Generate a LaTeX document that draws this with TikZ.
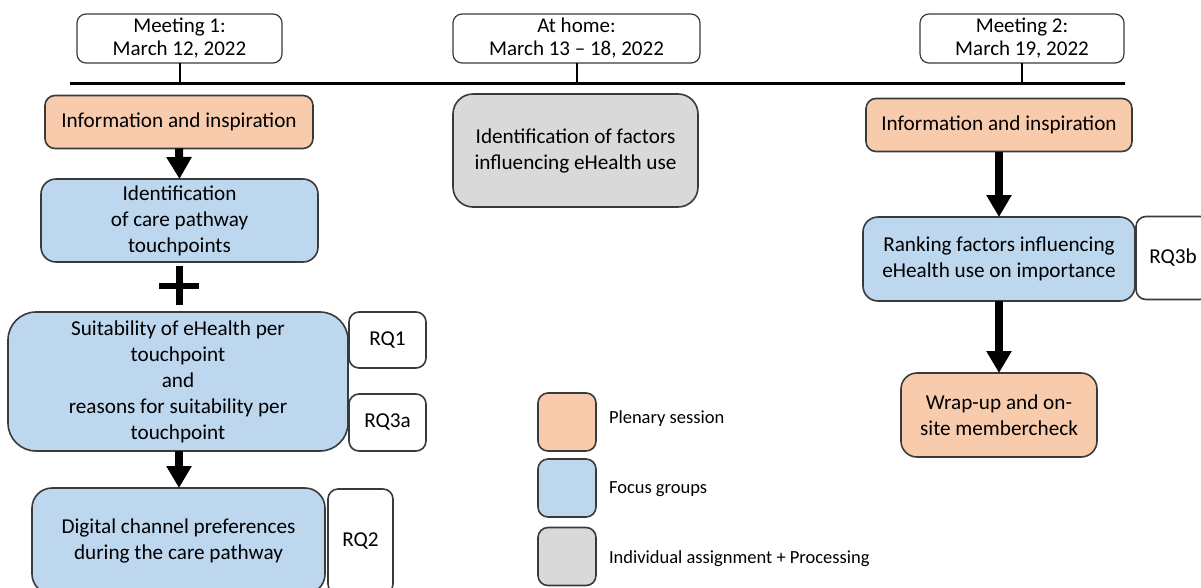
\documentclass[tikz,border=0pt]{standalone}
\usepackage{fontspec}
\setmainfont{Carlito}
\usetikzlibrary{arrows.meta}
\definecolor{orfill}{HTML}{F8CBAD}
\definecolor{blfill}{HTML}{BDD7EE}
\definecolor{grfill}{HTML}{D9D9D9}
\definecolor{edgec}{HTML}{3A3A3A}
\begin{document}
\begin{tikzpicture}[x=1pt,y=-1pt,
  every node/.style={inner sep=0pt, outer sep=0pt},
  hdr/.style={draw=edgec, line width=1.2pt, rounded corners=9pt, fill=white, align=center,
    minimum height=49pt, font=\fontsize{21}{23}\selectfont},
  proc/.style={draw=edgec, line width=1.6pt, align=center, font=\fontsize{21.2}{26}\selectfont},
  plen/.style={proc, fill=orfill},
  focus/.style={proc, fill=blfill},
  indiv/.style={proc, fill=grfill},
  rqbox/.style={proc, fill=white, rounded corners=10pt},
  blockarrow/.style={line width=8pt, -{Triangle[width=24pt,length=22pt]}},
  stemline/.style={line width=2pt},
  legtext/.style={anchor=west, font=\fontsize{18.5}{22}\selectfont}
]
\useasboundingbox (0,0) rectangle (1201,587);
\clip (0,0) rectangle (1201,587);

% timeline
\coordinate (tlL) at (70,83);
\coordinate (tlR) at (1125,83);
\draw[line width=3pt] (tlL) -- (tlR);

% headers
\node[hdr, minimum width=205pt] (m1) at (179.5,38.5) {Meeting 1:\\March 12, 2022};
\node[hdr, minimum width=247pt] (home) at (576.5,38.5) {At home:\\March 13 – 18, 2022};
\node[hdr, minimum width=204pt] (m2) at (1022,38.5) {Meeting 2:\\March 19, 2022};
\draw[stemline] (m1.south) -- (m1.south |- tlL);
\draw[stemline] (home.south) -- (home.south |- tlL);
\draw[stemline] (m2.south) -- (m2.south |- tlL);

% left column
\node[plen, rounded corners=10pt, minimum width=268pt, minimum height=53pt] (info1) at (179,122) {Information and inspiration};
\node[focus, rounded corners=15pt, minimum width=277pt, minimum height=83pt] (ident) at (179.5,220.5) {Identification\\of care pathway\\touchpoints};
\coordinate (plus) at (179,285.5);
\draw[line width=6pt] ([xshift=-20pt]plus) -- ([xshift=20pt]plus);
\draw[line width=7pt] ([yshift=19.5pt]plus) -- ([yshift=-19.5pt]plus);
\node[focus, rounded corners=28pt, minimum width=340pt, minimum height=139pt] (suit) at (178,381.5) {Suitability of eHealth per\\touchpoint\\and\\reasons for suitability per\\touchpoint};
\node[rqbox, minimum width=77pt, minimum height=56pt] (rq1) at (387.5,340) {RQ1};
\node[rqbox, minimum width=77pt, minimum height=57pt] (rq3a) at (387.5,422.5) {RQ3a};
\node[focus, rounded corners=20pt, minimum width=293pt, minimum height=106pt] (digital) at (178.5,541) {Digital channel preferences\\during the care pathway};
\node[rqbox, minimum width=65pt, minimum height=105pt] (rq2) at (360.5,541.5) {RQ2};
\draw[blockarrow] (info1.south) -- (ident.north);
\draw[blockarrow] (suit.south -| info1.south) -- (digital.north -| info1.south);

% middle column
\node[indiv, rounded corners=20pt, minimum width=245pt, minimum height=113pt] (factors) at (575.5,150.5) {Identification of factors\\influencing eHealth use};

% right column
\node[plen, rounded corners=10pt, minimum width=266pt, minimum height=53pt] (info2) at (999,125) {Information and inspiration};
\node[focus, rounded corners=15pt, minimum width=272pt, minimum height=84pt] (rank) at (999,259) {Ranking factors influencing\\eHealth use on importance};
\node[rqbox, minimum width=74pt, minimum height=83pt] (rq3b) at (1173,258) {RQ3b};
\node[plen, rounded corners=16pt, minimum width=196pt, minimum height=84pt] (wrap) at (999,415) {Wrap-up and on-\\site membercheck};
\draw[blockarrow] (info2.south) -- (rank.north);
\draw[blockarrow] (rank.south) -- (wrap.north);

% legend
\node[plen, rounded corners=10pt, minimum width=58pt, minimum height=58pt] (legP) at (567,422) {};
\node[focus, rounded corners=10pt, minimum width=58pt, minimum height=58pt] (legF) at (567,488) {};
\node[indiv, rounded corners=10pt, minimum width=58pt, minimum height=58pt] (legI) at (567,556.5) {};
\node[legtext] (legPt) at (609,419) {Plenary session};
\node[legtext] (legFt) at (609,489) {Focus groups};
\node[legtext] (legIt) at (609,559) {Individual assignment + Processing};
\end{tikzpicture}
\end{document}
